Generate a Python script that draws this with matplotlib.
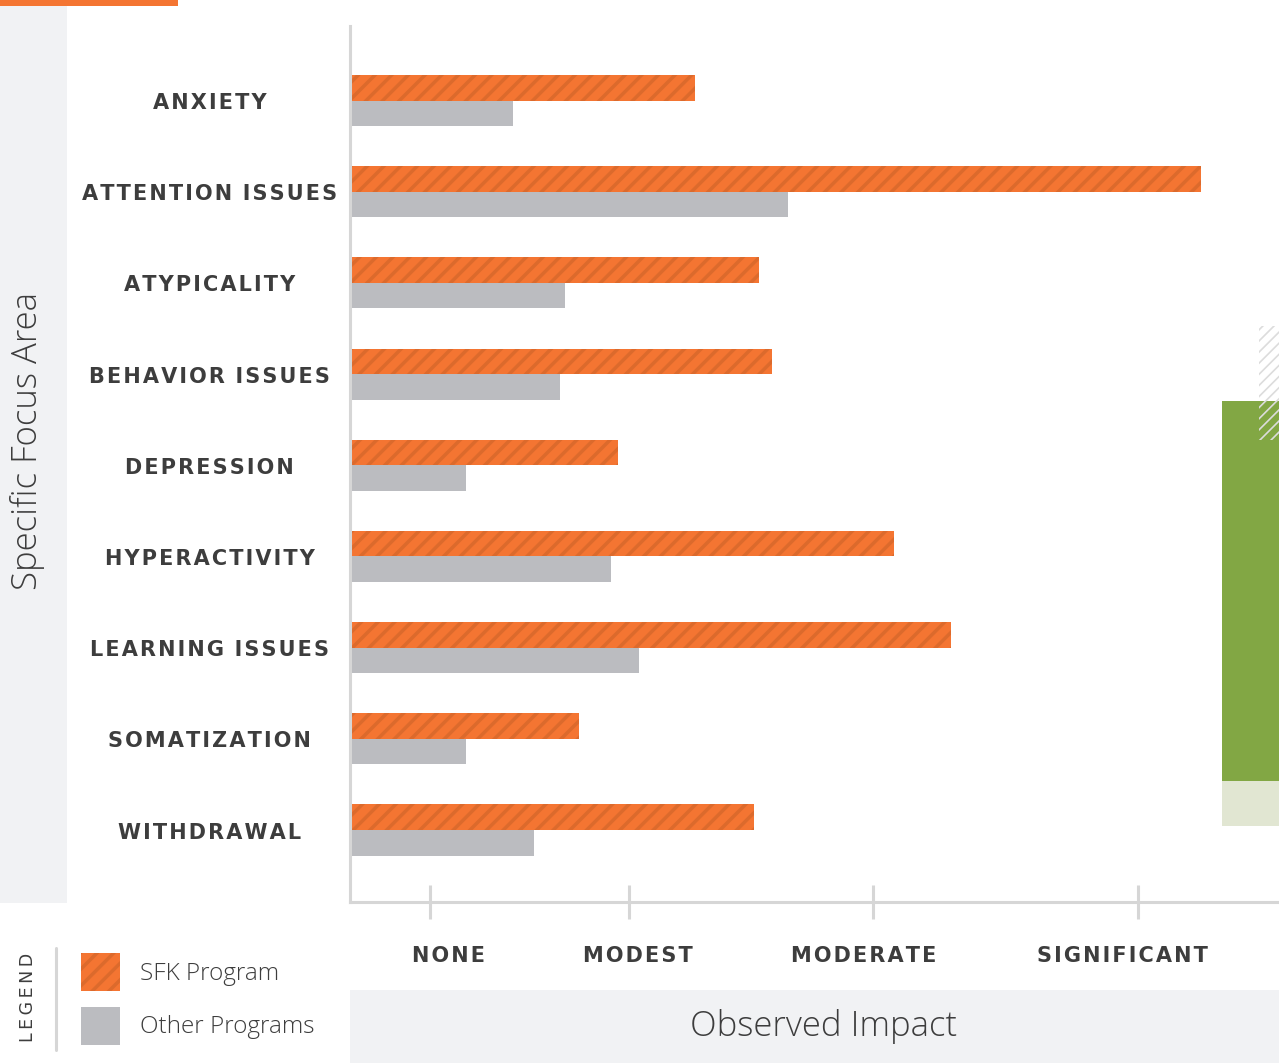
import matplotlib
matplotlib.use('Agg')
import numpy as np
import matplotlib.pyplot as plt
import matplotlib.transforms as mtrans
from matplotlib.patches import Rectangle
from matplotlib.lines import Line2D

# ---------------- data ----------------
categories = ['ANXIETY', 'ATTENTION ISSUES', 'ATYPICALITY', 'BEHAVIOR ISSUES',
              'DEPRESSION', 'HYPERACTIVITY', 'LEARNING ISSUES', 'SOMATIZATION',
              'WITHDRAWAL']
sfk_values = [37.1, 91.6, 44.0, 45.4, 28.8, 58.6, 64.7, 24.6, 43.5]
other_values = [17.5, 47.1, 23.1, 22.6, 12.5, 28.1, 31.1, 12.5, 19.8]
tick_values = [8.6, 30.0, 56.3, 84.8]
tick_label_values = [10.6, 31.0, 55.3, 83.1]
tick_labels = ['NONE', 'MODEST', 'MODERATE', 'SIGNIFICANT']
series_names = ['SFK Program', 'Other Programs']
x_title = 'Observed Impact'
y_title = 'Specific Focus Area'
legend_title = 'LEGEND'

# ---------------- style ----------------
ORANGE = '#f47532'
ORANGE_DARK = '#dc6a2c'
GREY = '#bbbcc0'
AXIS = '#d6d6d6'
PANEL = '#f1f2f4'
TEXT = '#3d3d3d'
GREEN = '#82a744'
GREEN_LIGHT = '#e1e6d2'

BOLD = dict(family=['DejaVu Sans'], fontweight='bold', color=TEXT)
LIGHT = dict(family=['Open Sans', 'DejaVu Sans'], fontweight='light', color=TEXT)
HAIR = '\u200a'


def spaced(s, gap=HAIR, word_gap=HAIR * 3):
    parts = []
    for ch in s:
        parts.append(word_gap if ch == ' ' else ch)
    return gap.join(parts)


W, H = 1279, 1063
fig = plt.figure(figsize=(W / 100, H / 100), dpi=100)
fig.patch.set_facecolor('white')


def fx(x):
    return x / W


def fy(y):
    return 1 - y / H


def rect_px(x0, y0, x1, y1, **kw):
    r = Rectangle((fx(x0), fy(y1)), (x1 - x0) / W, (y1 - y0) / H,
                  transform=fig.transFigure, **kw)
    fig.add_artist(r)
    return r


# background decorations
rect_px(0, 0, 178, 6, facecolor=ORANGE, linewidth=0, zorder=-1)
rect_px(0, 6, 67, 903, facecolor=PANEL, linewidth=0, zorder=-1)
rect_px(350, 990, W, H, facecolor=PANEL, linewidth=0, zorder=-1)
rect_px(1222, 401, W, 781, facecolor=GREEN, linewidth=0, zorder=1)
rect_px(1222, 781, W, 826, facecolor=GREEN_LIGHT, linewidth=0, zorder=1)
plt.rcParams['hatch.linewidth'] = 1.2
rect_px(1259, 326, W, 440, facecolor='none', edgecolor='#dcdcdc',
        linewidth=0, hatch='///', zorder=2)
plt.rcParams['hatch.linewidth'] = 2.5

# ---------------- axes ----------------
ax = fig.add_axes([fx(350), fy(902), (W - 350) / W, (902 - 26) / H])
ax.set_facecolor('none')
n = len(categories)
y = np.arange(n)
bh = 0.28
ax.barh(y - bh, sfk_values, height=bh, align='edge', color=ORANGE,
        edgecolor=ORANGE_DARK, linewidth=0, hatch='//', zorder=2)
ax.barh(y, other_values, height=bh, align='edge', color=GREY,
        linewidth=0, zorder=2)
ax.set_xlim(0, 100)
ax.set_ylim(n - 1 + 0.79, -0.818)

for s in ['top', 'right']:
    ax.spines[s].set_visible(False)
for s in ['left', 'bottom']:
    ax.spines[s].set_color(AXIS)
    ax.spines[s].set_linewidth(2.2)
    ax.spines[s].set_zorder(3)
ax.set_yticks([])
ax.set_xticks(tick_values)
ax.tick_params(axis='x', direction='inout', length=24.5, width=2.2,
               color=AXIS, labelbottom=False)

LABEL_FS = 15
# category labels
cap = LABEL_FS * 0.729 / 2
ytrans = mtrans.blended_transform_factory(fig.transFigure, ax.transData)
ytrans = mtrans.offset_copy(ytrans, fig=fig, x=0, y=-cap - 0.7, units='points')
for i, c in enumerate(categories):
    ax.text(fx(209.5), i, spaced(c), transform=ytrans, ha='center',
            va='baseline', fontsize=LABEL_FS, clip_on=False, **BOLD)

# x tick labels
xtrans = mtrans.blended_transform_factory(ax.transData, fig.transFigure)
for v, lab in zip(tick_label_values, tick_labels):
    ax.text(v, fy(961.5), spaced(lab), transform=xtrans, ha='center',
            va='baseline', fontsize=LABEL_FS, clip_on=False, **BOLD)

# axis titles
fig.text(fx(824), fy(1036), x_title, ha='center', va='baseline',
         fontsize=25, **LIGHT)
fig.text(fx(37), fy(441), y_title, ha='center', va='baseline',
         rotation=90, rotation_mode='anchor', fontsize=25, **LIGHT)

# legend
fig.text(fx(33), fy(997), spaced(legend_title, gap='\u2009'), ha='center',
         va='baseline', rotation=90, rotation_mode='anchor', fontsize=12.5,
         family=['DejaVu Sans'], color=TEXT)
fig.add_artist(Line2D([fx(56), fx(56)], [fy(948), fy(1050)],
                      transform=fig.transFigure, color=AXIS, lw=2.2,
                      solid_capstyle='round'))
rect_px(81, 953, 120, 991, facecolor=ORANGE, edgecolor=ORANGE_DARK,
        linewidth=0, hatch='//')
rect_px(81, 1007, 120, 1045, facecolor=GREY, linewidth=0)
fig.text(fx(140), fy(980), series_names[0], ha='left', va='baseline',
         fontsize=17.5, **LIGHT)
fig.text(fx(140), fy(1033), series_names[1], ha='left', va='baseline',
         fontsize=17.5, **LIGHT)

fig.savefig('out.png', dpi=100)
